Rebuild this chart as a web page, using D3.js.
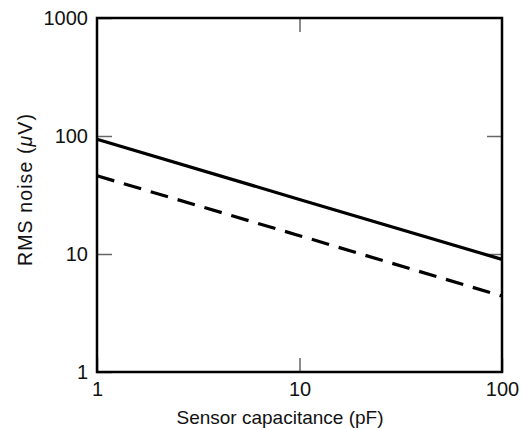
<!DOCTYPE html>
<html>
<head>
<meta charset="utf-8">
<script src="https://cdn.jsdelivr.net/npm/d3@7"></script>
<style>
  body { margin: 0; background: #fff; }
  text { font-family: "Liberation Sans", Arial, sans-serif; fill: #111; }
</style>
</head>
<body>
<script>
var w = 522;
var h = 430;

// data
var capacitance = [1, 10, 100];
var noiseSolid = [94, 29, 9.0];
var noiseDashed = [46, 14.3, 4.4];
var xTicks = [1, 10, 100];
var yTicks = [1, 10, 100, 1000];

var plotL = 97, plotR = 502, plotT = 18, plotB = 372;

var svg = d3.select("body").append("svg")
            .attr("width", w)
            .attr("height", h);

var x = d3.scaleLog().domain([1, 100]).range([plotL, plotR]);
var y = d3.scaleLog().domain([1, 1000]).range([plotB, plotT]);

// inward ticks on all four sides
function styleAxis(g) {
  g.select(".domain").remove();
  g.selectAll(".tick line").attr("stroke", "#666").attr("stroke-width", 1.5);
  g.selectAll("text").style("font-size", "20px").attr("fill", "#111");
}

svg.append("g")
   .attr("transform", "translate(0," + plotB + ")")
   .call(d3.axisBottom(x).tickValues(xTicks).tickFormat(d3.format("d")).tickSizeInner(-14).tickPadding(10))
   .call(styleAxis);

svg.append("g")
   .attr("transform", "translate(0," + plotT + ")")
   .call(d3.axisTop(x).tickValues(xTicks.slice(1, 2)).tickFormat("").tickSizeInner(-14))
   .call(styleAxis);

svg.append("g")
   .attr("transform", "translate(" + plotL + ",0)")
   .call(d3.axisLeft(y).tickValues(yTicks).tickFormat(d3.format("d")).tickSizeInner(-15).tickPadding(9))
   .call(styleAxis);

svg.append("g")
   .attr("transform", "translate(" + plotR + ",0)")
   .call(d3.axisRight(y).tickValues(yTicks.slice(1, 3)).tickFormat("").tickSizeInner(-15))
   .call(styleAxis);

// lines
var line = d3.line()
             .x(function(d) { return x(d[0]); })
             .y(function(d) { return y(d[1]); });

svg.append("path")
   .datum(d3.zip(capacitance, noiseSolid))
   .attr("d", line)
   .attr("fill", "none")
   .attr("stroke", "#000")
   .attr("stroke-width", 3.2);

svg.append("path")
   .datum(d3.zip(capacitance, noiseDashed))
   .attr("d", line)
   .attr("fill", "none")
   .attr("stroke", "#000")
   .attr("stroke-width", 3.2)
   .attr("stroke-dasharray", "18,10");

// frame
svg.append("rect")
   .attr("x", plotL)
   .attr("y", plotT)
   .attr("width", plotR - plotL)
   .attr("height", plotB - plotT)
   .attr("fill", "none")
   .attr("stroke", "#000")
   .attr("stroke-width", 2.5);

// axis titles
svg.append("text")
   .attr("x", 280)
   .attr("y", 424)
   .attr("text-anchor", "middle")
   .style("font-size", "19px")
   .text("Sensor capacitance (pF)");

var yt = svg.append("text")
   .attr("transform", "translate(32,190) rotate(-90)")
   .attr("text-anchor", "middle")
   .attr("textLength", 152)
   .attr("lengthAdjust", "spacing")
   .style("font-size", "19.5px");
yt.append("tspan").text("RMS noise (");
yt.append("tspan").style("font-style", "italic").text("\u03bc");
yt.append("tspan").text("V)");
</script>
</body>
</html>
